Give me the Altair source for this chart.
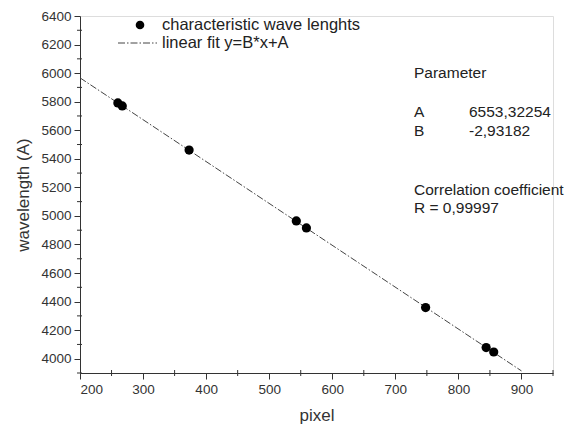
import altair as alt
import pandas as pd

# measured calibration points
pixel = [260, 267, 373, 543, 559, 748, 844, 856]
wavelength = [5791, 5770, 5461, 4965, 4916, 4358, 4078, 4047]

# linear fit parameters
A = 6553.32254
B = -2.93182
fit_x = [200, 900]
fit_y = [B * v + A for v in fit_x]

y_major = [4000, 4200, 4400, 4600, 4800, 5000, 5200, 5400, 5600, 5800, 6000, 6200, 6400]
y_minor = [3900, 4100, 4300, 4500, 4700, 4900, 5100, 5300, 5500, 5700, 5900, 6100, 6300]
x_major = [200, 300, 400, 500, 600, 700, 800, 900]
x_minor = [250, 350, 450, 550, 650, 750, 850, 950]

pts = pd.DataFrame({"pixel": pixel, "wavelength": wavelength})
fit = pd.DataFrame({"pixel": fit_x, "wavelength": fit_y})
ymin_df = pd.DataFrame({"wavelength": y_minor})
xmin_df = pd.DataFrame({"pixel": x_minor})

FONT = "Liberation Sans"
GRAY = "#333333"

xscale = alt.Scale(domain=[200, 950], nice=False, zero=False)
yscale = alt.Scale(domain=[3900, 6400], nice=False, zero=False)


def xaxis():
    return alt.Axis(values=x_major, grid=False, title="pixel", tickSize=6, format="d",
                    labelOverlap=False,
                    labelFontSize=13.5, titleFontSize=17, labelColor=GRAY, titleColor=GRAY,
                    titleFontWeight="normal", domainColor=GRAY, tickColor=GRAY,
                    labelFont=FONT, titleFont=FONT, titlePadding=12, labelPadding=3)


def yaxis():
    return alt.Axis(values=y_major, grid=False, title="wavelength (A)", tickSize=6, format="d",
                    labelOverlap=False,
                    labelFontSize=13.5, titleFontSize=17, labelColor=GRAY, titleColor=GRAY,
                    titleFontWeight="normal", domainColor=GRAY, tickColor=GRAY,
                    labelFont=FONT, titleFont=FONT, titlePadding=8, labelPadding=3)


def X():
    return alt.X("pixel:Q", scale=xscale, axis=xaxis())


def Y():
    return alt.Y("wavelength:Q", scale=yscale, axis=yaxis())


line = alt.Chart(fit).mark_line(color="#444444", strokeWidth=1,
                                strokeDash=[7, 2, 1.5, 2]).encode(x=X(), y=Y())

points = alt.Chart(pts).mark_circle(size=85, color="black", opacity=1).encode(x=X(), y=Y())

# minor ticks
ymin_ticks = alt.Chart(ymin_df).mark_rule(color=GRAY, strokeWidth=1).encode(
    y=Y(), x=alt.value(-3), x2=alt.value(2))
xmin_ticks = alt.Chart(xmin_df).mark_rule(color=GRAY, strokeWidth=1).encode(
    x=X(), y=alt.value(354), y2=alt.value(360))

one = pd.DataFrame({"a": [0]})


def label(txt, px, py, size=15.5):
    return alt.Chart(one).mark_text(align="left", baseline="middle", fontSize=size,
                                    font=FONT, color="#222222", text=txt).encode(
        x=alt.value(px), y=alt.value(py))


# legend
leg_texts = ["characteristic wave lenghts", "linear fit y=B*x+A"]
leg_dot = alt.Chart(one).mark_circle(size=75, color="black", opacity=1).encode(
    x=alt.value(60), y=alt.value(9))
leg_line = alt.Chart(one).mark_rule(color="#444444", strokeWidth=1,
                                    strokeDash=[7, 2, 1.5, 2]).encode(
    x=alt.value(38), x2=alt.value(77), y=alt.value(27))
legend_layers = [label(leg_texts[0], 82, 9, 16.5), label(leg_texts[1], 82, 27, 16.5)]

# parameter annotations
ann_left = ["Parameter", "A", "B", "Correlation coefficient", "R = 0,99997"]
ann_left_y = [57, 96, 115, 174, 192]
ann_right = ["6553,32254", "-2,93182"]
ann_right_y = [96, 115]
ann_layers = [label(t, 334, yy) for t, yy in zip(ann_left, ann_left_y)]
ann_layers += [label(t, 389, yy) for t, yy in zip(ann_right, ann_right_y)]

chart = alt.layer(line, points, ymin_ticks, xmin_ticks, leg_dot, leg_line,
                  *legend_layers, *ann_layers).properties(
    width=473, height=357,
    padding={"left": 80, "top": 16, "right": 14, "bottom": 55},
    autosize=alt.AutoSizeParams(type="none"),
).configure_view(stroke=None).configure(background="white")

chart.save("out.html", embed_options={"renderer": "svg", "actions": False})
